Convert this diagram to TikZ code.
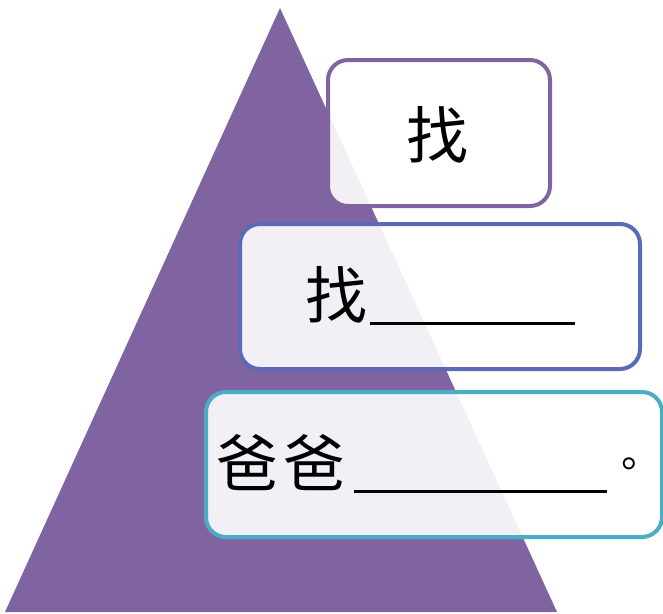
\documentclass[tikz,border=0pt]{standalone}
\usepackage{fontspec}
\newfontfamily\cjk{Noto Sans CJK SC}
\definecolor{tri}{HTML}{8064A2}
\definecolor{bA}{HTML}{8064A2}
\definecolor{bB}{HTML}{5A6AB8}
\definecolor{bC}{HTML}{4BACC6}
\begin{document}
\begin{tikzpicture}[x=1pt,y=-1pt,
  box/.style={rounded corners=20pt, line width=4pt, fill=white, fill opacity=0.9},
  lbl/.style={font=\cjk\fontsize{62}{64}\selectfont, inner sep=0pt, text opacity=1}]
\useasboundingbox (0,0) rectangle (663,613);
\fill[tri] (280,8) -- (557,612) -- (5,612) -- cycle;
\draw[box, draw=bA] (328,60) rectangle (550,206);
\draw[box, draw=bB] (240,224) rectangle (640,369);
\draw[box, draw=bC] (206,392) rectangle (662,537);
\node[lbl, anchor=base] (t1) at (437,158) {找};
\node[lbl, anchor=base west] (t2) at (305,318) {找\hspace{3pt}\rule[-7pt]{205pt}{3pt}};
\node[lbl, anchor=base west] (t3) at (216,486) {爸\hspace{5pt}爸\hspace{9pt}\rule[-7pt]{253pt}{3pt}\hspace{14pt}\raisebox{19pt}{\fontsize{40}{42}\selectfont 。}};
\end{tikzpicture}
\end{document}
